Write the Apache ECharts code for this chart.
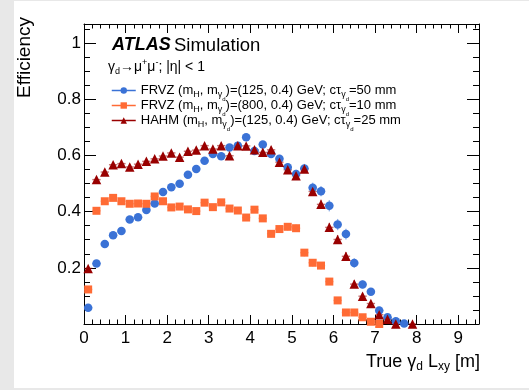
<!DOCTYPE html>
<html>
<head>
<meta charset="utf-8">
<script src="https://cdn.jsdelivr.net/npm/echarts@6/dist/echarts.min.js"></script>
<style>
  html, body { margin:0; padding:0; background:#e8e8e8; width:529px; height:390px; overflow:hidden; }
  #main { position:absolute; left:14px; top:1px; width:515px; height:387px; background:#ffffff; }
</style>
</head>
<body>
<div id="main"></div>
<script>
// ---- data ----
const binCenters = [0.1,0.3,0.5,0.7,0.9,1.1,1.3,1.5,1.7,1.9,2.1,2.3,2.5,2.7,2.9,3.1,3.3,3.5,3.7,3.9,
                    4.1,4.3,4.5,4.7,4.9,5.1,5.3,5.5,5.7,5.9,6.1,6.3,6.5,6.7,6.9,7.1,7.3,7.5,7.7,7.9];
const binHalfWidth = 0.1;

const frvz125 = [0.058,0.215,0.285,0.316,0.331,0.372,0.380,0.406,0.429,0.470,0.487,0.499,0.531,0.552,0.581,0.605,0.597,0.628,0.635,0.665,
                 0.616,0.639,0.605,0.588,0.558,0.534,0.554,0.485,0.473,0.421,0.354,0.320,0.217,0.141,0.115,0.048,0.024,0.010,0.002,null];
const frvz125Err = [0.006,0.008,0.008,0.008,0.008,0.008,0.008,0.008,0.008,0.008,0.008,0.008,0.008,0.009,0.009,0.009,0.009,0.010,0.010,0.010,
                    0.011,0.012,0.013,0.014,0.014,0.015,0.016,0.018,0.018,0.020,0.020,0.019,0.017,0.014,0.012,0.009,0.006,0.004,0.002,null];

const frvz800 = [0.123,0.403,0.437,0.449,0.437,0.428,0.429,0.428,0.454,0.437,0.415,0.418,0.408,0.402,0.432,0.416,0.433,0.411,0.404,0.379,
                 0.407,0.376,0.321,0.338,0.346,0.341,0.254,0.218,0.208,0.151,0.084,0.041,0.041,0.024,0.008,0.000,null,null,null,null];
const frvz800Err = [0.007,0.009,0.009,0.009,0.009,0.009,0.009,0.009,0.009,0.009,0.009,0.009,0.009,0.009,0.010,0.010,0.010,0.010,0.010,0.010,
                    0.011,0.011,0.012,0.012,0.013,0.013,0.013,0.013,0.013,0.012,0.010,0.007,0.007,0.005,0.003,0.001,null,null,null,null];

const hahm = [0.198,0.514,0.541,0.567,0.571,0.559,0.569,0.579,0.588,0.598,0.609,0.594,0.615,0.619,0.635,0.623,0.635,0.599,0.635,0.634,
              0.620,0.611,0.620,0.576,0.549,0.528,0.552,0.472,0.426,0.344,0.301,0.241,0.142,0.099,0.073,0.033,0.017,0.000,null,0.000];
const hahmErr = [0.007,0.009,0.009,0.009,0.009,0.009,0.009,0.009,0.009,0.009,0.009,0.009,0.009,0.009,0.010,0.010,0.010,0.010,0.010,0.010,
                 0.011,0.011,0.012,0.012,0.013,0.013,0.014,0.015,0.016,0.016,0.016,0.015,0.014,0.012,0.010,0.007,0.005,0.002,null,0.002];

const xTicks = { min: 0, max: 9.5, interval: 1 };
const yTicks = { min: 0, max: 1.068, interval: 0.2 };

const seriesNames = ['FRVZ125', 'FRVZ800', 'HAHM'];
const legendLabels = {
  FRVZ125: 'FRVZ (m{sub|H}, m{sub|γ}{sub2|d})=(125, 0.4) GeV; cτ{sub|γ}{sub2|d}=50 mm',
  FRVZ800: 'FRVZ (m{sub|H}, m{sub|γ}{sub2|d})=(800, 0.4) GeV; cτ{sub|γ}{sub2|d}=10 mm',
  HAHM:    'HAHM (m{sub|H}, m{sub|γ}{sub2|d})=(125, 0.4) GeV; cτ{sub|γ}{sub2|d}=25 mm'
};
const colors = ['#3a72d6', '#ff6b35', '#990000'];
const errColors = ['rgba(58,114,214,0.55)', 'rgba(255,107,53,0.55)', 'rgba(153,0,0,0.55)'];

// ---- build ----
const FONT = '"Liberation Sans", Arial, Helvetica, sans-serif';
function pairs(vals) {
  const out = [];
  binCenters.forEach((x, i) => { if (vals[i] !== null && vals[i] !== undefined) out.push([x, vals[i]]); });
  return out;
}
function triples(vals, errs) {
  const out = [];
  binCenters.forEach((x, i) => { if (vals[i] !== null && vals[i] !== undefined) out.push([x, vals[i], errs[i] || 0]); });
  return out;
}
function errRender(color) {
  return function (params, api) {
    const x = api.value(0), y = api.value(1), e = api.value(2);
    const c = api.coord([x, y]);
    const t = api.coord([x, y + e]);
    const b = api.coord([x, Math.max(y - e, 0)]);
    const l = api.coord([x - binHalfWidth, y]);
    const r = api.coord([x + binHalfWidth, y]);
    return {
      type: 'group',
      children: [
        { type: 'line', shape: { x1: c[0], y1: t[1], x2: c[0], y2: b[1] }, style: { stroke: color, lineWidth: 1.4 } },
        { type: 'line', shape: { x1: l[0], y1: c[1], x2: r[0], y2: c[1] }, style: { stroke: color, lineWidth: 1.4 } }
      ]
    };
  };
}
const richText = {
  sub:  { fontSize: 9, fontFamily: FONT, color: '#000', padding: [9, 0, 0, 0] },
  sub2: { fontSize: 6, fontFamily: FONT, color: '#000', padding: [17, 0, 0, 0] },
  sup:  { fontSize: 9, fontFamily: FONT, color: '#000', padding: [0, 0, 9, 0] }
};

const valueSets = [frvz125, frvz800, hahm];
const errSets = [frvz125Err, frvz800Err, hahmErr];
const symbols = ['circle', 'rect', 'triangle'];
const symbolSizes = [8.5, 8, 9.5];

const series = [];
valueSets.forEach((vals, i) => {
  series.push({
    name: seriesNames[i] + '_err', type: 'custom', xAxisIndex: 0, yAxisIndex: 0,
    renderItem: errRender(errColors[i]), data: triples(vals, errSets[i]), z: 2, silent: true
  });
});
valueSets.forEach((vals, i) => {
  series.push({
    name: seriesNames[i], type: 'line', xAxisIndex: 0, yAxisIndex: 0,
    data: pairs(vals), symbol: symbols[i], symbolSize: symbolSizes[i], showSymbol: true,
    itemStyle: { color: colors[i] }, lineStyle: { color: colors[i], width: 1.5, opacity: 0 },
    z: 3, animation: false
  });
});

const legendTops = [83, 98, 113];
const legends = seriesNames.map((n, i) => ({
  data: [n], orient: 'vertical', left: 97, top: legendTops[i], padding: 0,
  itemWidth: 24, itemHeight: 8, itemGap: 0,
  lineStyle: { width: 1.5, opacity: 1 },
  formatter: name => legendLabels[name],
  textStyle: { fontSize: 13, fontFamily: FONT, color: '#000', rich: richText }
}));

const axisCommon = {
  type: 'value',
  axisLine: { show: true, onZero: false, lineStyle: { color: '#000', width: 1 } },
  axisTick: { show: true, inside: true, lineStyle: { color: '#000', width: 1 } },
  minorTick: { show: true, lineStyle: { color: '#000', width: 1 } },
  splitLine: { show: false }
};

const option = {
  animation: false,
  backgroundColor: '#ffffff',
  textStyle: { fontFamily: FONT },
  grid: { left: 70, right: 50, top: 23, bottom: 64, containLabel: false },
  xAxis: [
    Object.assign({}, axisCommon, {
      min: xTicks.min, max: xTicks.max, interval: xTicks.interval, position: 'bottom',
      axisTick: Object.assign({}, axisCommon.axisTick, { length: 9 }),
      minorTick: { show: true, splitNumber: 5, length: 4.5, lineStyle: { color: '#000' } },
      axisLabel: { show: true, color: '#000', fontSize: 17, fontFamily: FONT, margin: 6, showMaxLabel: false,
                   formatter: v => String(Math.round(v)) }
    }),
    Object.assign({}, axisCommon, {
      min: xTicks.min, max: xTicks.max, interval: xTicks.interval, position: 'top',
      axisTick: Object.assign({}, axisCommon.axisTick, { length: 9 }),
      minorTick: { show: true, splitNumber: 5, length: 4.5, lineStyle: { color: '#000' } },
      axisLabel: { show: false }
    })
  ],
  yAxis: [
    Object.assign({}, axisCommon, {
      min: yTicks.min, max: yTicks.max, interval: yTicks.interval, position: 'left',
      axisTick: Object.assign({}, axisCommon.axisTick, { length: 12 }),
      minorTick: { show: true, splitNumber: 4, length: 6, lineStyle: { color: '#000' } },
      axisLabel: { show: true, color: '#000', fontSize: 17, fontFamily: FONT, margin: 3, showMaxLabel: false,
                   formatter: v => (v === 0 ? '' : String(Math.round(v * 10) / 10)) }
    }),
    Object.assign({}, axisCommon, {
      min: yTicks.min, max: yTicks.max, interval: yTicks.interval, position: 'right',
      axisTick: Object.assign({}, axisCommon.axisTick, { length: 12 }),
      minorTick: { show: true, splitNumber: 4, length: 6, lineStyle: { color: '#000' } },
      axisLabel: { show: false }
    })
  ],
  legend: legends,
  series: series,
  graphic: [
    {
      type: 'text', left: 98, top: 35,
      style: {
        text: '{a|ATLAS} {b|Simulation}',
        rich: {
          a: { fontSize: 18, fontWeight: 'bold', fontStyle: 'italic', fontFamily: FONT, fill: '#000' },
          b: { fontSize: 18.5, fontFamily: FONT, fill: '#000' }
        }
      }
    },
    {
      type: 'text', left: 94, top: 57,
      style: {
        text: 'γ{sub|d}→μ{sup|+}μ{sup|-}; |η| < 1',
        fontSize: 14, fontFamily: FONT, fill: '#000',
        rich: {
          sub: { fontSize: 9, fontFamily: FONT, fill: '#000', padding: [9, 0, 0, 0] },
          sup: { fontSize: 9, fontFamily: FONT, fill: '#000', padding: [0, 0, 9, 0] }
        }
      }
    },
    {
      type: 'text', right: 49, top: 352,
      style: {
        text: 'True γ{sub|d} L{sub|xy} [m]',
        fontSize: 18, fontFamily: FONT, fill: '#000',
        rich: {
          sub: { fontSize: 12, fontFamily: FONT, fill: '#000', padding: [10, 0, 0, 0] }
        }
      }
    },
    {
      type: 'text', x: 1, y: 16, rotation: Math.PI / 2, originX: 0, originY: 0,
      style: {
        text: 'Efficiency', fontSize: 19, fontFamily: FONT, fill: '#000',
        align: 'right', verticalAlign: 'top'
      }
    }
  ]
};

const chart = echarts.init(document.getElementById('main'), null, { renderer: 'canvas' });
chart.setOption(option);
</script>
</body>
</html>
